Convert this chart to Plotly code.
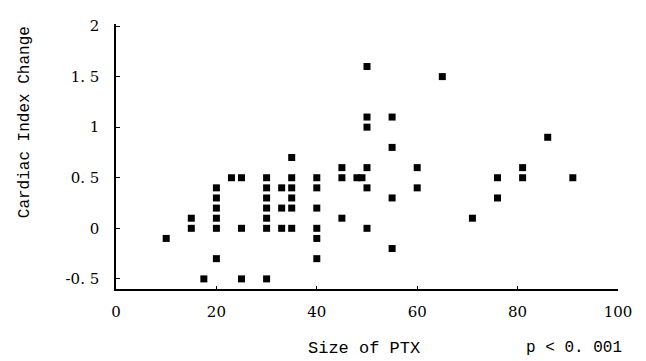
import plotly.graph_objects as go

# Size of PTX (%) and Cardiac Index change
ptx_size = [10, 15, 15, 17.5,
            20, 20, 20, 20, 20, 20,
            23, 25, 25, 25,
            30, 30, 30, 30, 30, 30, 30,
            33, 33, 33,
            35, 35, 35, 35, 35, 35,
            40, 40, 40, 40, 40, 40,
            45, 45, 45, 48, 49,
            50, 50, 50, 50, 50, 50,
            55, 55, 55, 55,
            60, 60, 65, 71, 76, 76, 81, 81, 86, 91]
ci_change = [-0.1, 0.1, 0.0, -0.5,
             0.4, 0.3, 0.2, 0.1, 0.0, -0.3,
             0.5, 0.5, 0.0, -0.5,
             0.5, 0.4, 0.3, 0.2, 0.1, 0.0, -0.5,
             0.4, 0.2, 0.0,
             0.7, 0.5, 0.4, 0.3, 0.2, 0.0,
             0.5, 0.4, 0.2, 0.0, -0.1, -0.3,
             0.6, 0.5, 0.1, 0.5, 0.5,
             1.6, 1.1, 1.0, 0.6, 0.4, 0.0,
             1.1, 0.8, 0.3, -0.2,
             0.6, 0.4, 1.5, 0.1, 0.5, 0.3, 0.6, 0.5, 0.9, 0.5]

y_tickvals = [2, 1.5, 1, 0.5, 0, -0.5]
y_ticktext = ["2", "1. 5", "1", "0. 5", "0", "-0. 5"]
x_tickvals = [0, 20, 40, 60, 80, 100]
x_ticktext = ["0", "20", "40", "60", "80", "100"]

serif = "DejaVu Serif"
mono = "Liberation Mono"
tick_font = dict(family=serif, size=15, color="black")
title_font = dict(family=mono, size=16, color="black")

fig = go.Figure()
fig.add_trace(go.Scatter(
    x=ptx_size, y=ci_change, mode="markers",
    marker=dict(symbol="square", size=7, color="black"),
    showlegend=False, hoverinfo="skip"))

fig.update_layout(
    width=638, height=353,
    margin=dict(l=108, r=28, t=9, b=72),
    paper_bgcolor="white", plot_bgcolor="white",
    xaxis=dict(range=[0, 100], tickvals=x_tickvals, ticktext=x_ticktext,
               showgrid=False, zeroline=False, showline=True,
               linecolor="black", linewidth=1.5,
               ticks="inside", ticklen=3, tickcolor="black",
               tickfont=tick_font, ticklabelstandoff=8),
    yaxis=dict(range=[-0.6, 2.02], tickvals=y_tickvals, ticktext=y_ticktext,
               showgrid=False, zeroline=False, showline=True,
               linecolor="black", linewidth=1.5,
               ticks="inside", ticklen=4, tickcolor="black",
               tickfont=tick_font, ticklabelstandoff=12),
    annotations=[
        dict(text="Cardiac Index Change", textangle=-90, showarrow=False,
             xref="paper", yref="paper", x=-0.181, y=0.63,
             xanchor="center", yanchor="middle", font=title_font),
        dict(text="Size of PTX", showarrow=False,
             xref="paper", yref="paper", x=0.494, y=-0.224,
             xanchor="center", yanchor="middle",
             font=dict(family=mono, size=17, color="black")),
        dict(text="p < 0. 001", showarrow=False,
             xref="paper", yref="paper", x=0.912, y=-0.224,
             xanchor="center", yanchor="middle", font=title_font),
    ],
)

fig.write_html("out.html")
